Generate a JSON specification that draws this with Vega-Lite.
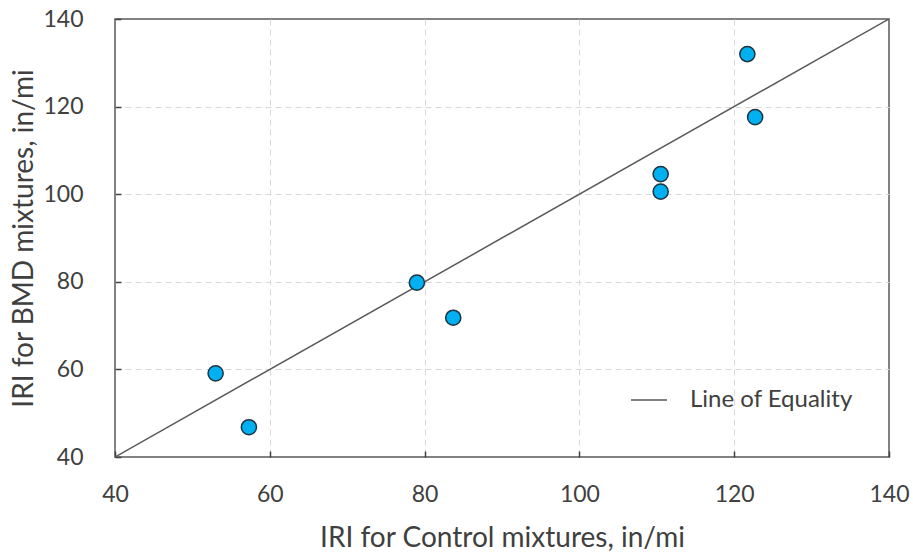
{
  "$schema": "https://vega.github.io/schema/vega-lite/v6.json",
  "autosize": "none",
  "width": 774,
  "height": 438,
  "padding": {"left": 115, "top": 19, "right": 24, "bottom": 96},
  "background": "white",
  "config": {
    "font": "Lato",
    "view": {"stroke": "#595959", "strokeWidth": 1.5},
    "axis": {
      "labelFont": "Lato",
      "titleFont": "Lato",
      "labelFontSize": 23,
      "titleFontSize": 28,
      "labelColor": "#404040",
      "titleColor": "#404040",
      "titleFontWeight": "normal",
      "labelFlush": false,
      "domain": false,
      "tickColor": "#404040",
      "tickWidth": 1.5,
      "tickSize": -6,
      "grid": true,
      "gridColor": "#d9d9d9",
      "gridDash": [6, 4],
      "gridWidth": 1,
      "gridOpacity": {"condition": {"test": "datum.value == 40 || datum.value == 140", "value": 0}, "value": 1}
    }
  },
  "datasets": {
    "points": [
      {"control": 53.0, "bmd": 59.1},
      {"control": 57.3, "bmd": 46.8},
      {"control": 79.0, "bmd": 79.8},
      {"control": 83.7, "bmd": 71.8},
      {"control": 110.5, "bmd": 104.6},
      {"control": 110.5, "bmd": 100.6},
      {"control": 121.7, "bmd": 132.0},
      {"control": 122.7, "bmd": 117.6}
    ],
    "equality": [
      {"control": 40, "bmd": 40, "series": "Line of Equality"},
      {"control": 140, "bmd": 140, "series": "Line of Equality"}
    ]
  },
  "layer": [
    {
      "data": {"name": "equality"},
      "mark": {"type": "line", "strokeWidth": 1.5, "clip": true},
      "encoding": {
        "x": {
          "field": "control",
          "type": "quantitative",
          "scale": {"domain": [40, 140], "nice": false},
          "axis": {"values": [40, 60, 80, 100, 120, 140], "title": "IRI for Control mixtures, in/mi", "labelPadding": 32, "titlePadding": 18}
        },
        "y": {
          "field": "bmd",
          "type": "quantitative",
          "scale": {"domain": [40, 140], "nice": false},
          "axis": {"values": [40, 60, 80, 100, 120, 140], "title": "IRI for BMD mixtures, in/mi", "labelPadding": 38, "titlePadding": 4}
        },
        "color": {
          "field": "series",
          "type": "nominal",
          "scale": {"range": ["#595959"]},
          "legend": {
            "title": null,
            "orient": "none",
            "legendX": 515,
            "legendY": 362,
            "symbolType": "stroke",
            "symbolStrokeWidth": 1.5,
            "symbolSize": 1296,
            "labelFont": "Lato",
            "labelFontSize": 24,
            "labelLimit": 300,
            "labelColor": "#404040",
            "labelOffset": 22
          }
        }
      }
    },
    {
      "data": {"name": "points"},
      "mark": {"type": "circle", "size": 230, "fill": "#00b0f0", "stroke": "#1f3340", "strokeWidth": 1.5, "opacity": 1},
      "encoding": {
        "x": {"field": "control", "type": "quantitative"},
        "y": {"field": "bmd", "type": "quantitative"}
      }
    }
  ]
}
